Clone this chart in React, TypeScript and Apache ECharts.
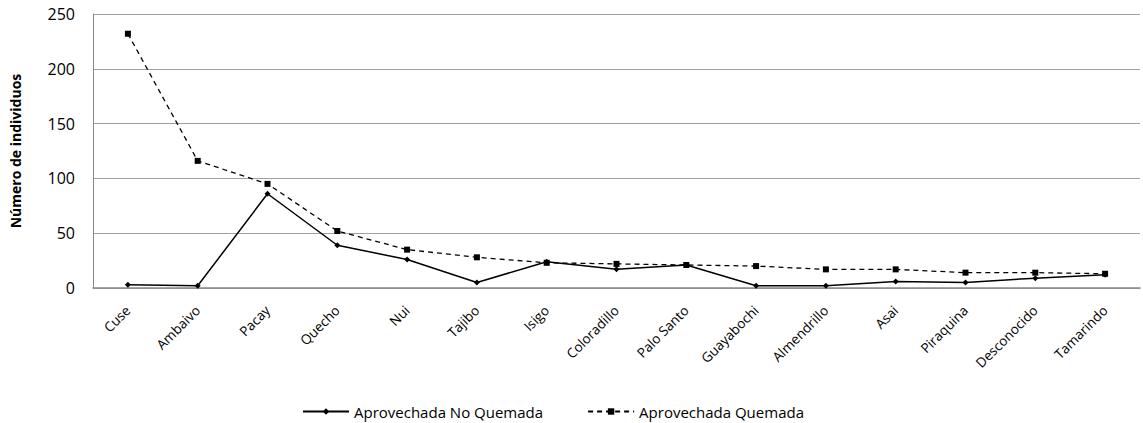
import React, { useEffect, useRef } from "react";
import * as echarts from "echarts";

const categories = ["Cuse", "Ambaivo", "Pacay", "Quecho", "Nui", "Tajibo", "Isigo", "Coloradillo", "Palo Santo", "Guayabochi", "Almendrillo", "Asai", "Piraquina", "Desconocido", "Tamarindo"];
const noQuemada = [3, 2, 86, 39, 26, 5, 24, 17, 21, 2, 2, 6, 5, 9, 12];
const quemada = [232, 116, 95, 52, 35, 28, 23, 22, 21, 20, 17, 17, 14, 14, 13];
const yTicks = [0, 50, 100, 150, 200, 250];

const FONT = "'Open Sans', 'Liberation Sans', sans-serif";

export default function App() {
  const ref = useRef<HTMLDivElement>(null);
  useEffect(() => {
    if (!ref.current) return;
    const chart = echarts.init(ref.current, null, { renderer: "svg" });
    chart.setOption({
      animation: false,
      textStyle: { fontFamily: FONT, color: "#000" },
      grid: { left: 90, right: 3, top: 14, bottom: 135, containLabel: false },
      legend: {
        top: 403,
        left: 302,
        padding: 0,
        itemWidth: 46,
        itemHeight: 8,
        itemGap: 44,
        textStyle: { fontFamily: FONT, fontSize: 15, lineHeight: 17, color: "#000" },
        data: ["Aprovechada No Quemada", "Aprovechada Quemada"],
      },
      xAxis: {
        type: "category",
        data: categories,
        boundaryGap: true,
        axisLine: { lineStyle: { color: "#888", width: 1.5 } },
        axisTick: { show: false },
        axisLabel: { rotate: 45, fontSize: 13.5, color: "#000", fontFamily: FONT, margin: 20, interval: 0 },
      },
      yAxis: {
        type: "value",
        min: yTicks[0],
        max: yTicks[yTicks.length - 1],
        interval: 50,
        name: "Número de individuos",
        nameLocation: "middle",
        nameGap: 71,
        nameTextStyle: { fontWeight: "bold", fontSize: 14, fontFamily: FONT, color: "#000" },
        axisLine: { show: true, lineStyle: { color: "#888", width: 1 } },
        axisTick: { show: false },
        axisLabel: { fontSize: 16, color: "#000", fontFamily: FONT, margin: 18 },
        splitLine: { lineStyle: { color: "#a0a0a0", width: 1 } },
      },
      series: [
        {
          name: "Aprovechada No Quemada",
          type: "line",
          data: noQuemada,
          symbol: "diamond",
          symbolSize: 6,
          itemStyle: { color: "#000" },
          lineStyle: { color: "#000", width: 1.5, type: "solid" },
        },
        {
          name: "Aprovechada Quemada",
          type: "line",
          data: quemada,
          symbol: "rect",
          symbolSize: 6,
          itemStyle: { color: "#000" },
          lineStyle: { color: "#000", width: 1.3, type: [5, 4] },
        },
      ],
    });
    return () => chart.dispose();
  }, []);
  return <div ref={ref} style={{ width: 1143, height: 423, position: "absolute", left: 0, top: 0 }} />;
}
